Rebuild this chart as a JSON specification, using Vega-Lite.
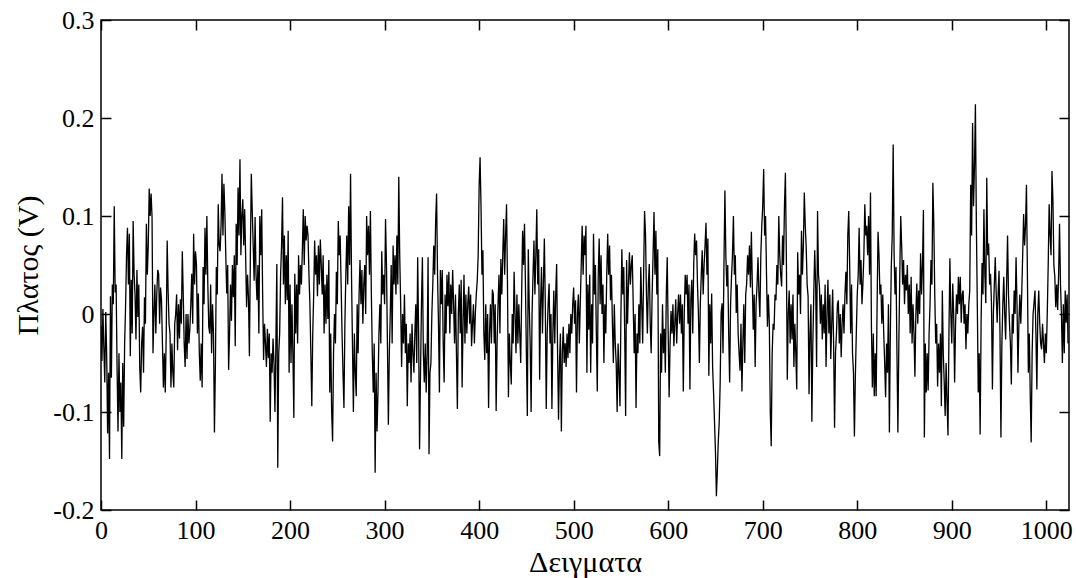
{
"$schema": "https://vega.github.io/schema/vega-lite/v6.json",
"width": 968, "height": 490,
"autosize": {"type": "none"},
"padding": {"left": 101, "top": 20, "right": 7, "bottom": 68},
"background": "white",
"config": {
 "view": {"stroke": "black", "strokeWidth": 1.5},
 "axis": {"labelFont": "Liberation Serif, Times New Roman, serif", "titleFont": "Liberation Serif, Times New Roman, serif", "labelFontSize": 26, "titleFontSize": 30, "labelColor": "black", "titleColor": "black", "titleFontWeight": "normal", "tickColor": "black", "tickSize": -10, "tickWidth": 1.5, "domain": false, "grid": false, "labelFlush": false, "labelOverlap": false, "labelBound": false}
},
"data": {"values": [
{"n":0,"v":-0.012},{"n":1,"v":-0.048},{"n":2,"v":0.005},{"n":3,"v":-0.035},{"n":4,"v":-0.07},{"n":5,"v":0.002},{"n":6,"v":-0.04},{"n":7,"v":-0.122},{"n":8,"v":-0.06},{"n":9,"v":-0.148},
{"n":10,"v":0.018},{"n":11,"v":-0.065},{"n":12,"v":0.03},{"n":13,"v":0.01},{"n":14,"v":0.11},{"n":15,"v":0.022},{"n":16,"v":0.03},{"n":17,"v":-0.055},{"n":18,"v":-0.12},{"n":19,"v":-0.04},
{"n":20,"v":-0.1},{"n":21,"v":-0.07},{"n":22,"v":-0.148},{"n":23,"v":-0.05},{"n":24,"v":-0.115},{"n":25,"v":-0.03},{"n":26,"v":0.008},{"n":27,"v":0.06},{"n":28,"v":0.088},{"n":29,"v":0.03},
{"n":30,"v":0.082},{"n":31,"v":-0.043},{"n":32,"v":0.035},{"n":33,"v":-0.02},{"n":34,"v":0.095},{"n":35,"v":0.041},{"n":36,"v":0.02},{"n":37,"v":-0.026},{"n":38,"v":0.045},{"n":39,"v":-0.003},
{"n":40,"v":0.03},{"n":41,"v":-0.055},{"n":42,"v":-0.08},{"n":43,"v":-0.03},{"n":44,"v":-0.013},{"n":45,"v":-0.06},{"n":46,"v":0.017},{"n":47,"v":-0.01},{"n":48,"v":0.092},{"n":49,"v":0.04},
{"n":50,"v":0.07},{"n":51,"v":0.128},{"n":52,"v":0.1},{"n":53,"v":0.123},{"n":54,"v":0.099},{"n":55,"v":-0.04},{"n":56,"v":0.0},{"n":57,"v":0.03},{"n":58,"v":-0.02},{"n":59,"v":0.02},
{"n":60,"v":0.045},{"n":61,"v":0.041},{"n":62,"v":-0.01},{"n":63,"v":0.027},{"n":64,"v":0.014},{"n":65,"v":-0.03},{"n":66,"v":-0.075},{"n":67,"v":-0.04},{"n":68,"v":-0.08},{"n":69,"v":-0.02},
{"n":70,"v":0.075},{"n":71,"v":0.024},{"n":72,"v":-0.01},{"n":73,"v":-0.02},{"n":74,"v":-0.075},{"n":75,"v":-0.03},{"n":76,"v":-0.06},{"n":77,"v":-0.075},{"n":78,"v":-0.01},{"n":79,"v":0.0},
{"n":80,"v":0.02},{"n":81,"v":-0.037},{"n":82,"v":0.01},{"n":83,"v":-0.025},{"n":84,"v":0.015},{"n":85,"v":-0.01},{"n":86,"v":0.064},{"n":87,"v":0.02},{"n":88,"v":-0.03},{"n":89,"v":-0.054},
{"n":90,"v":0.0},{"n":91,"v":-0.046},{"n":92,"v":0.0},{"n":93,"v":-0.03},{"n":94,"v":-0.015},{"n":95,"v":0.01},{"n":96,"v":0.041},{"n":97,"v":-0.01},{"n":98,"v":0.082},{"n":99,"v":0.03},
{"n":100,"v":0.064},{"n":101,"v":0.05},{"n":102,"v":-0.02},{"n":103,"v":0.021},{"n":104,"v":-0.04},{"n":105,"v":-0.068},{"n":106,"v":-0.03},{"n":107,"v":-0.075},{"n":108,"v":0.048},{"n":109,"v":0.01},
{"n":110,"v":0.088},{"n":111,"v":0.04},{"n":112,"v":0.1},{"n":113,"v":0.03},{"n":114,"v":-0.013},{"n":115,"v":-0.02},{"n":116,"v":0.03},{"n":117,"v":-0.04},{"n":118,"v":0.01},{"n":119,"v":-0.02},
{"n":120,"v":-0.121},{"n":121,"v":-0.054},{"n":122,"v":0.048},{"n":123,"v":0.02},{"n":124,"v":0.112},{"n":125,"v":0.07},{"n":126,"v":0.064},{"n":127,"v":0.09},{"n":128,"v":0.143},{"n":129,"v":0.08},
{"n":130,"v":0.133},{"n":131,"v":0.105},{"n":132,"v":0.06},{"n":133,"v":0.021},{"n":134,"v":0.05},{"n":135,"v":-0.057},{"n":136,"v":-0.02},{"n":137,"v":0.03},{"n":138,"v":-0.007},{"n":139,"v":0.05},
{"n":140,"v":0.017},{"n":141,"v":0.06},{"n":142,"v":-0.033},{"n":143,"v":0.092},{"n":144,"v":0.05},{"n":145,"v":0.129},{"n":146,"v":0.08},{"n":147,"v":0.158},{"n":148,"v":0.06},{"n":149,"v":0.1},
{"n":150,"v":0.117},{"n":151,"v":0.07},{"n":152,"v":0.107},{"n":153,"v":0.06},{"n":154,"v":0.007},{"n":155,"v":0.04},{"n":156,"v":0.017},{"n":157,"v":-0.043},{"n":158,"v":0.06},{"n":159,"v":0.143},
{"n":160,"v":0.105},{"n":161,"v":0.07},{"n":162,"v":0.034},{"n":163,"v":0.099},{"n":164,"v":0.04},{"n":165,"v":0.014},{"n":166,"v":0.05},{"n":167,"v":-0.02},{"n":168,"v":0.1},{"n":169,"v":0.06},
{"n":170,"v":0.107},{"n":171,"v":0.02},{"n":172,"v":-0.047},{"n":173,"v":-0.01},{"n":174,"v":-0.03},{"n":175,"v":-0.054},{"n":176,"v":-0.015},{"n":177,"v":-0.045},{"n":178,"v":-0.02},{"n":179,"v":-0.11},
{"n":180,"v":-0.04},{"n":181,"v":-0.06},{"n":182,"v":-0.025},{"n":183,"v":-0.05},{"n":184,"v":-0.1},{"n":185,"v":-0.03},{"n":186,"v":0.051},{"n":187,"v":-0.157},{"n":188,"v":-0.04},{"n":189,"v":-0.02},
{"n":190,"v":0.04},{"n":191,"v":0.07},{"n":192,"v":0.119},{"n":193,"v":0.03},{"n":194,"v":0.08},{"n":195,"v":0.01},{"n":196,"v":0.06},{"n":197,"v":0.014},{"n":198,"v":0.085},{"n":199,"v":-0.06},
{"n":200,"v":0.03},{"n":201,"v":-0.05},{"n":202,"v":0.01},{"n":203,"v":-0.04},{"n":204,"v":-0.106},{"n":205,"v":0.041},{"n":206,"v":-0.02},{"n":207,"v":0.03},{"n":208,"v":-0.03},{"n":209,"v":0.06},
{"n":210,"v":0.02},{"n":211,"v":0.05},{"n":212,"v":0.03},{"n":213,"v":0.065},{"n":214,"v":0.107},{"n":215,"v":0.05},{"n":216,"v":0.1},{"n":217,"v":0.075},{"n":218,"v":0.09},{"n":219,"v":0.08},
{"n":220,"v":0.04},{"n":221,"v":0.01},{"n":222,"v":-0.04},{"n":223,"v":-0.094},{"n":224,"v":-0.02},{"n":225,"v":0.02},{"n":226,"v":0.075},{"n":227,"v":0.04},{"n":228,"v":0.06},{"n":229,"v":0.018},
{"n":230,"v":0.07},{"n":231,"v":0.03},{"n":232,"v":0.076},{"n":233,"v":0.05},{"n":234,"v":0.02},{"n":235,"v":0.06},{"n":236,"v":-0.02},{"n":237,"v":0.03},{"n":238,"v":-0.01},{"n":239,"v":0.04},
{"n":240,"v":-0.005},{"n":241,"v":0.055},{"n":242,"v":-0.08},{"n":243,"v":-0.02},{"n":244,"v":-0.1},{"n":245,"v":-0.13},{"n":246,"v":-0.04},{"n":247,"v":0.0},{"n":248,"v":-0.03},{"n":249,"v":0.043},
{"n":250,"v":0.01},{"n":251,"v":0.095},{"n":252,"v":0.06},{"n":253,"v":0.08},{"n":254,"v":0.03},{"n":255,"v":-0.02},{"n":256,"v":-0.06},{"n":257,"v":-0.096},{"n":258,"v":-0.01},{"n":259,"v":0.04},
{"n":260,"v":0.08},{"n":261,"v":0.03},{"n":262,"v":0.11},{"n":263,"v":0.05},{"n":264,"v":0.143},{"n":265,"v":0.04},{"n":266,"v":-0.03},{"n":267,"v":-0.1},{"n":268,"v":-0.02},{"n":269,"v":-0.06},
{"n":270,"v":-0.084},{"n":271,"v":0.01},{"n":272,"v":-0.04},{"n":273,"v":0.02},{"n":274,"v":0.055},{"n":275,"v":0.01},{"n":276,"v":0.045},{"n":277,"v":-0.01},{"n":278,"v":0.03},{"n":279,"v":0.05},
{"n":280,"v":0.0},{"n":281,"v":0.1},{"n":282,"v":0.06},{"n":283,"v":0.09},{"n":284,"v":0.04},{"n":285,"v":0.105},{"n":286,"v":0.02},{"n":287,"v":-0.04},{"n":288,"v":-0.08},{"n":289,"v":-0.03},
{"n":290,"v":-0.162},{"n":291,"v":-0.06},{"n":292,"v":-0.12},{"n":293,"v":-0.08},{"n":294,"v":-0.02},{"n":295,"v":0.01},{"n":296,"v":-0.03},{"n":297,"v":0.064},{"n":298,"v":0.02},{"n":299,"v":0.04},
{"n":300,"v":0.01},{"n":301,"v":0.097},{"n":302,"v":0.05},{"n":303,"v":-0.03},{"n":304,"v":-0.113},{"n":305,"v":-0.04},{"n":306,"v":0.0},{"n":307,"v":0.05},{"n":308,"v":-0.03},{"n":309,"v":0.07},
{"n":310,"v":0.03},{"n":311,"v":0.06},{"n":312,"v":0.02},{"n":313,"v":0.08},{"n":314,"v":0.03},{"n":315,"v":0.14},{"n":316,"v":0.06},{"n":317,"v":0.01},{"n":318,"v":-0.054},{"n":319,"v":0.0},
{"n":320,"v":-0.03},{"n":321,"v":0.02},{"n":322,"v":-0.04},{"n":323,"v":-0.01},{"n":324,"v":-0.094},{"n":325,"v":-0.03},{"n":326,"v":-0.05},{"n":327,"v":-0.02},{"n":328,"v":-0.07},{"n":329,"v":-0.01},
{"n":330,"v":-0.04},{"n":331,"v":-0.06},{"n":332,"v":-0.02},{"n":333,"v":0.01},{"n":334,"v":-0.05},{"n":335,"v":0.058},{"n":336,"v":-0.02},{"n":337,"v":-0.138},{"n":338,"v":-0.06},{"n":339,"v":0.01},
{"n":340,"v":0.058},{"n":341,"v":-0.04},{"n":342,"v":-0.07},{"n":343,"v":-0.03},{"n":344,"v":-0.08},{"n":345,"v":-0.04},{"n":346,"v":0.058},{"n":347,"v":-0.143},{"n":348,"v":-0.06},{"n":349,"v":-0.05},
{"n":350,"v":0.0},{"n":351,"v":0.03},{"n":352,"v":0.07},{"n":353,"v":0.04},{"n":354,"v":0.095},{"n":355,"v":0.123},{"n":356,"v":0.04},{"n":357,"v":-0.01},{"n":358,"v":-0.08},{"n":359,"v":0.045},
{"n":360,"v":0.01},{"n":361,"v":0.045},{"n":362,"v":-0.03},{"n":363,"v":-0.07},{"n":364,"v":0.02},{"n":365,"v":-0.02},{"n":366,"v":0.04},{"n":367,"v":0.008},{"n":368,"v":0.043},{"n":369,"v":-0.02},
{"n":370,"v":0.03},{"n":371,"v":0.0},{"n":372,"v":0.045},{"n":373,"v":0.01},{"n":374,"v":-0.03},{"n":375,"v":0.02},{"n":376,"v":-0.04},{"n":377,"v":-0.097},{"n":378,"v":0.0},{"n":379,"v":0.03},
{"n":380,"v":-0.02},{"n":381,"v":0.035},{"n":382,"v":-0.075},{"n":383,"v":-0.01},{"n":384,"v":0.04},{"n":385,"v":-0.03},{"n":386,"v":0.02},{"n":387,"v":-0.02},{"n":388,"v":0.01},{"n":389,"v":0.028},
{"n":390,"v":-0.01},{"n":391,"v":0.02},{"n":392,"v":-0.033},{"n":393,"v":-0.01},{"n":394,"v":0.01},{"n":395,"v":-0.03},{"n":396,"v":0.0},{"n":397,"v":0.02},{"n":398,"v":0.034},{"n":399,"v":0.06},
{"n":400,"v":0.13},{"n":401,"v":0.16},{"n":402,"v":0.11},{"n":403,"v":0.04},{"n":404,"v":0.065},{"n":405,"v":-0.02},{"n":406,"v":-0.047},{"n":407,"v":0.01},{"n":408,"v":-0.04},{"n":409,"v":0.0},
{"n":410,"v":-0.096},{"n":411,"v":-0.02},{"n":412,"v":0.01},{"n":413,"v":-0.03},{"n":414,"v":0.025},{"n":415,"v":0.02},{"n":416,"v":-0.03},{"n":417,"v":0.01},{"n":418,"v":-0.099},{"n":419,"v":-0.03},
{"n":420,"v":0.01},{"n":421,"v":0.04},{"n":422,"v":-0.02},{"n":423,"v":0.056},{"n":424,"v":0.02},{"n":425,"v":0.06},{"n":426,"v":0.097},{"n":427,"v":0.04},{"n":428,"v":0.08},{"n":429,"v":0.112},
{"n":430,"v":0.03},{"n":431,"v":-0.085},{"n":432,"v":-0.02},{"n":433,"v":-0.05},{"n":434,"v":-0.072},{"n":435,"v":0.0},{"n":436,"v":-0.03},{"n":437,"v":0.043},{"n":438,"v":0.0},{"n":439,"v":-0.04},
{"n":440,"v":0.02},{"n":441,"v":-0.03},{"n":442,"v":0.01},{"n":443,"v":-0.02},{"n":444,"v":-0.05},{"n":445,"v":0.02},{"n":446,"v":0.085},{"n":447,"v":0.05},{"n":448,"v":0.092},{"n":449,"v":0.03},
{"n":450,"v":-0.04},{"n":451,"v":-0.104},{"n":452,"v":0.066},{"n":453,"v":0.01},{"n":454,"v":-0.03},{"n":455,"v":-0.1},{"n":456,"v":0.0},{"n":457,"v":0.04},{"n":458,"v":0.075},{"n":459,"v":0.02},
{"n":460,"v":0.06},{"n":461,"v":0.107},{"n":462,"v":0.03},{"n":463,"v":0.066},{"n":464,"v":-0.067},{"n":465,"v":0.01},{"n":466,"v":0.048},{"n":467,"v":-0.02},{"n":468,"v":0.03},{"n":469,"v":0.077},
{"n":470,"v":0.01},{"n":471,"v":-0.097},{"n":472,"v":-0.02},{"n":473,"v":0.01},{"n":474,"v":0.031},{"n":475,"v":-0.03},{"n":476,"v":0.0},{"n":477,"v":-0.097},{"n":478,"v":-0.02},{"n":479,"v":0.024},
{"n":480,"v":-0.03},{"n":481,"v":0.02},{"n":482,"v":0.051},{"n":483,"v":-0.04},{"n":484,"v":-0.108},{"n":485,"v":-0.05},{"n":486,"v":-0.02},{"n":487,"v":-0.12},{"n":488,"v":-0.04},{"n":489,"v":-0.013},
{"n":490,"v":-0.05},{"n":491,"v":-0.03},{"n":492,"v":-0.054},{"n":493,"v":-0.02},{"n":494,"v":-0.045},{"n":495,"v":-0.01},{"n":496,"v":-0.04},{"n":497,"v":0.0},{"n":498,"v":-0.02},{"n":499,"v":0.01},
{"n":500,"v":0.027},{"n":501,"v":-0.01},{"n":502,"v":0.014},{"n":503,"v":-0.08},{"n":504,"v":0.0},{"n":505,"v":0.02},{"n":506,"v":-0.03},{"n":507,"v":0.01},{"n":508,"v":0.05},{"n":509,"v":0.09},
{"n":510,"v":0.04},{"n":511,"v":0.08},{"n":512,"v":0.06},{"n":513,"v":0.09},{"n":514,"v":-0.06},{"n":515,"v":0.03},{"n":516,"v":-0.016},{"n":517,"v":0.04},{"n":518,"v":-0.06},{"n":519,"v":0.01},
{"n":520,"v":-0.03},{"n":521,"v":0.082},{"n":522,"v":0.02},{"n":523,"v":0.05},{"n":524,"v":-0.02},{"n":525,"v":-0.079},{"n":526,"v":0.04},{"n":527,"v":0.077},{"n":528,"v":0.01},{"n":529,"v":0.06},
{"n":530,"v":0.0},{"n":531,"v":0.03},{"n":532,"v":-0.05},{"n":533,"v":0.01},{"n":534,"v":-0.02},{"n":535,"v":0.04},{"n":536,"v":0.082},{"n":537,"v":0.04},{"n":538,"v":0.07},{"n":539,"v":0.014},
{"n":540,"v":0.04},{"n":541,"v":-0.01},{"n":542,"v":-0.05},{"n":543,"v":0.01},{"n":544,"v":-0.03},{"n":545,"v":-0.05},{"n":546,"v":-0.1},{"n":547,"v":-0.03},{"n":548,"v":-0.06},{"n":549,"v":-0.094},
{"n":550,"v":0.0},{"n":551,"v":0.066},{"n":552,"v":0.02},{"n":553,"v":0.048},{"n":554,"v":-0.02},{"n":555,"v":-0.104},{"n":556,"v":0.055},{"n":557,"v":-0.01},{"n":558,"v":0.03},{"n":559,"v":0.063},
{"n":560,"v":0.03},{"n":561,"v":0.05},{"n":562,"v":0.06},{"n":563,"v":0.01},{"n":564,"v":-0.04},{"n":565,"v":0.0},{"n":566,"v":-0.096},{"n":567,"v":-0.02},{"n":568,"v":-0.04},{"n":569,"v":0.01},
{"n":570,"v":-0.03},{"n":571,"v":0.048},{"n":572,"v":0.01},{"n":573,"v":-0.03},{"n":574,"v":0.04},{"n":575,"v":0.105},{"n":576,"v":0.082},{"n":577,"v":0.02},{"n":578,"v":-0.02},{"n":579,"v":0.03},
{"n":580,"v":0.051},{"n":581,"v":-0.01},{"n":582,"v":-0.04},{"n":583,"v":0.02},{"n":584,"v":0.06},{"n":585,"v":0.104},{"n":586,"v":0.04},{"n":587,"v":0.085},{"n":588,"v":0.02},{"n":589,"v":0.066},
{"n":590,"v":-0.13},{"n":591,"v":-0.145},{"n":592,"v":-0.02},{"n":593,"v":-0.06},{"n":594,"v":0.01},{"n":595,"v":-0.04},{"n":596,"v":-0.015},{"n":597,"v":-0.06},{"n":598,"v":0.02},{"n":599,"v":0.058},
{"n":600,"v":-0.02},{"n":601,"v":-0.085},{"n":602,"v":-0.03},{"n":603,"v":0.003},{"n":604,"v":-0.02},{"n":605,"v":0.01},{"n":606,"v":-0.033},{"n":607,"v":-0.01},{"n":608,"v":0.015},{"n":609,"v":-0.03},
{"n":610,"v":0.0},{"n":611,"v":0.02},{"n":612,"v":-0.01},{"n":613,"v":0.02},{"n":614,"v":-0.02},{"n":615,"v":0.01},{"n":616,"v":-0.079},{"n":617,"v":0.0},{"n":618,"v":0.04},{"n":619,"v":0.02},
{"n":620,"v":0.04},{"n":621,"v":-0.01},{"n":622,"v":0.03},{"n":623,"v":-0.077},{"n":624,"v":0.016},{"n":625,"v":0.035},{"n":626,"v":-0.02},{"n":627,"v":0.05},{"n":628,"v":0.082},{"n":629,"v":0.06},
{"n":630,"v":0.075},{"n":631,"v":0.03},{"n":632,"v":0.0},{"n":633,"v":-0.05},{"n":634,"v":0.01},{"n":635,"v":0.04},{"n":636,"v":0.065},{"n":637,"v":0.02},{"n":638,"v":0.05},{"n":639,"v":0.07},
{"n":640,"v":0.093},{"n":641,"v":0.04},{"n":642,"v":0.077},{"n":643,"v":-0.063},{"n":644,"v":0.01},{"n":645,"v":-0.03},{"n":646,"v":0.021},{"n":647,"v":-0.054},{"n":648,"v":-0.08},{"n":649,"v":-0.11},
{"n":650,"v":-0.14},{"n":651,"v":-0.186},{"n":652,"v":-0.16},{"n":653,"v":-0.13},{"n":654,"v":-0.11},{"n":655,"v":-0.07},{"n":656,"v":0.001},{"n":657,"v":0.011},{"n":658,"v":-0.04},{"n":659,"v":0.05},
{"n":660,"v":0.126},{"n":661,"v":0.06},{"n":662,"v":0.028},{"n":663,"v":0.05},{"n":664,"v":-0.02},{"n":665,"v":-0.07},{"n":666,"v":0.01},{"n":667,"v":0.038},{"n":668,"v":0.06},{"n":669,"v":0.1},
{"n":670,"v":0.04},{"n":671,"v":0.06},{"n":672,"v":0.001},{"n":673,"v":0.03},{"n":674,"v":-0.02},{"n":675,"v":-0.04},{"n":676,"v":-0.058},{"n":677,"v":-0.01},{"n":678,"v":-0.079},{"n":679,"v":-0.03},
{"n":680,"v":0.01},{"n":681,"v":-0.05},{"n":682,"v":0.02},{"n":683,"v":0.031},{"n":684,"v":0.06},{"n":685,"v":0.04},{"n":686,"v":0.07},{"n":687,"v":0.027},{"n":688,"v":0.084},{"n":689,"v":0.03},
{"n":690,"v":-0.016},{"n":691,"v":0.02},{"n":692,"v":-0.054},{"n":693,"v":0.01},{"n":694,"v":0.03},{"n":695,"v":0.058},{"n":696,"v":0.02},{"n":697,"v":-0.003},{"n":698,"v":0.06},{"n":699,"v":0.09},
{"n":700,"v":0.11},{"n":701,"v":0.148},{"n":702,"v":0.08},{"n":703,"v":0.1},{"n":704,"v":0.041},{"n":705,"v":-0.013},{"n":706,"v":0.02},{"n":707,"v":-0.01},{"n":708,"v":-0.1},{"n":709,"v":-0.135},
{"n":710,"v":-0.04},{"n":711,"v":-0.01},{"n":712,"v":-0.016},{"n":713,"v":0.02},{"n":714,"v":0.014},{"n":715,"v":0.05},{"n":716,"v":0.03},{"n":717,"v":0.1},{"n":718,"v":0.06},{"n":719,"v":0.04},
{"n":720,"v":0.028},{"n":721,"v":0.08},{"n":722,"v":0.05},{"n":723,"v":0.11},{"n":724,"v":0.144},{"n":725,"v":0.06},{"n":726,"v":-0.067},{"n":727,"v":0.0},{"n":728,"v":0.024},{"n":729,"v":-0.03},
{"n":730,"v":0.01},{"n":731,"v":-0.026},{"n":732,"v":0.02},{"n":733,"v":-0.054},{"n":734,"v":-0.01},{"n":735,"v":-0.04},{"n":736,"v":-0.077},{"n":737,"v":0.063},{"n":738,"v":0.02},{"n":739,"v":0.04},
{"n":740,"v":0.0},{"n":741,"v":0.085},{"n":742,"v":0.04},{"n":743,"v":0.07},{"n":744,"v":0.124},{"n":745,"v":0.09},{"n":746,"v":0.068},{"n":747,"v":0.03},{"n":748,"v":0.018},{"n":749,"v":-0.082},
{"n":750,"v":-0.02},{"n":751,"v":0.01},{"n":752,"v":-0.11},{"n":753,"v":-0.03},{"n":754,"v":0.02},{"n":755,"v":0.065},{"n":756,"v":0.03},{"n":757,"v":-0.054},{"n":758,"v":0.105},{"n":759,"v":0.04},
{"n":760,"v":0.028},{"n":761,"v":-0.01},{"n":762,"v":0.02},{"n":763,"v":-0.026},{"n":764,"v":0.01},{"n":765,"v":-0.02},{"n":766,"v":0.03},{"n":767,"v":-0.054},{"n":768,"v":0.0},{"n":769,"v":0.035},
{"n":770,"v":-0.02},{"n":771,"v":0.02},{"n":772,"v":-0.046},{"n":773,"v":-0.01},{"n":774,"v":0.025},{"n":775,"v":-0.03},{"n":776,"v":-0.116},{"n":777,"v":-0.04},{"n":778,"v":-0.02},{"n":779,"v":0.01},
{"n":780,"v":0.014},{"n":781,"v":-0.03},{"n":782,"v":0.0},{"n":783,"v":-0.044},{"n":784,"v":-0.01},{"n":785,"v":0.01},{"n":786,"v":-0.02},{"n":787,"v":0.02},{"n":788,"v":0.043},{"n":789,"v":0.01},
{"n":790,"v":0.08},{"n":791,"v":0.105},{"n":792,"v":0.05},{"n":793,"v":-0.02},{"n":794,"v":0.03},{"n":795,"v":-0.04},{"n":796,"v":-0.06},{"n":797,"v":-0.125},{"n":798,"v":-0.063},{"n":799,"v":-0.02},
{"n":800,"v":0.02},{"n":801,"v":0.04},{"n":802,"v":0.088},{"n":803,"v":0.03},{"n":804,"v":0.055},{"n":805,"v":0.01},{"n":806,"v":0.031},{"n":807,"v":0.06},{"n":808,"v":0.112},{"n":809,"v":0.08},
{"n":810,"v":0.09},{"n":811,"v":0.06},{"n":812,"v":0.1},{"n":813,"v":0.04},{"n":814,"v":0.124},{"n":815,"v":-0.013},{"n":816,"v":-0.075},{"n":817,"v":-0.02},{"n":818,"v":-0.084},{"n":819,"v":-0.04},
{"n":820,"v":-0.084},{"n":821,"v":0.01},{"n":822,"v":0.084},{"n":823,"v":0.06},{"n":824,"v":0.02},{"n":825,"v":0.03},{"n":826,"v":-0.01},{"n":827,"v":0.02},{"n":828,"v":-0.019},{"n":829,"v":-0.05},
{"n":830,"v":-0.085},{"n":831,"v":-0.03},{"n":832,"v":-0.06},{"n":833,"v":0.01},{"n":834,"v":-0.121},{"n":835,"v":-0.02},{"n":836,"v":0.048},{"n":837,"v":0.08},{"n":838,"v":0.173},{"n":839,"v":0.06},
{"n":840,"v":0.02},{"n":841,"v":0.048},{"n":842,"v":-0.04},{"n":843,"v":-0.121},{"n":844,"v":-0.03},{"n":845,"v":0.04},{"n":846,"v":0.1},{"n":847,"v":0.07},{"n":848,"v":0.03},{"n":849,"v":0.055},
{"n":850,"v":0.01},{"n":851,"v":0.04},{"n":852,"v":0.024},{"n":853,"v":0.05},{"n":854,"v":0.0},{"n":855,"v":0.03},{"n":856,"v":-0.02},{"n":857,"v":0.038},{"n":858,"v":-0.03},{"n":859,"v":0.01},
{"n":860,"v":-0.02},{"n":861,"v":-0.064},{"n":862,"v":0.0},{"n":863,"v":0.031},{"n":864,"v":-0.01},{"n":865,"v":0.024},{"n":866,"v":0.0},{"n":867,"v":0.062},{"n":868,"v":0.02},{"n":869,"v":0.05},
{"n":870,"v":0.106},{"n":871,"v":-0.126},{"n":872,"v":-0.03},{"n":873,"v":-0.08},{"n":874,"v":-0.04},{"n":875,"v":-0.078},{"n":876,"v":-0.02},{"n":877,"v":0.01},{"n":878,"v":0.055},{"n":879,"v":0.03},
{"n":880,"v":0.134},{"n":881,"v":0.092},{"n":882,"v":0.02},{"n":883,"v":-0.03},{"n":884,"v":-0.01},{"n":885,"v":-0.074},{"n":886,"v":-0.03},{"n":887,"v":-0.06},{"n":888,"v":-0.02},{"n":889,"v":-0.094},
{"n":890,"v":0.024},{"n":891,"v":-0.04},{"n":892,"v":-0.07},{"n":893,"v":-0.104},{"n":894,"v":-0.05},{"n":895,"v":-0.09},{"n":896,"v":-0.124},{"n":897,"v":-0.02},{"n":898,"v":0.057},{"n":899,"v":0.0},
{"n":900,"v":-0.03},{"n":901,"v":0.031},{"n":902,"v":0.0},{"n":903,"v":-0.07},{"n":904,"v":-0.01},{"n":905,"v":0.02},{"n":906,"v":0.0},{"n":907,"v":0.038},{"n":908,"v":0.01},{"n":909,"v":0.038},
{"n":910,"v":-0.009},{"n":911,"v":0.02},{"n":912,"v":0.024},{"n":913,"v":-0.01},{"n":914,"v":0.01},{"n":915,"v":-0.036},{"n":916,"v":0.0},{"n":917,"v":-0.02},{"n":918,"v":0.01},{"n":919,"v":0.024},
{"n":920,"v":0.132},{"n":921,"v":0.08},{"n":922,"v":0.195},{"n":923,"v":0.11},{"n":924,"v":0.15},{"n":925,"v":0.214},{"n":926,"v":0.092},{"n":927,"v":0.01},{"n":928,"v":-0.08},{"n":929,"v":-0.04},
{"n":930,"v":-0.123},{"n":931,"v":-0.01},{"n":932,"v":0.052},{"n":933,"v":0.02},{"n":934,"v":0.107},{"n":935,"v":0.04},{"n":936,"v":0.011},{"n":937,"v":0.139},{"n":938,"v":0.06},{"n":939,"v":0.072},
{"n":940,"v":0.03},{"n":941,"v":0.041},{"n":942,"v":0.01},{"n":943,"v":-0.077},{"n":944,"v":0.0},{"n":945,"v":0.03},{"n":946,"v":0.058},{"n":947,"v":0.02},{"n":948,"v":-0.009},{"n":949,"v":0.02},
{"n":950,"v":0.044},{"n":951,"v":-0.02},{"n":952,"v":-0.126},{"n":953,"v":-0.03},{"n":954,"v":0.01},{"n":955,"v":0.038},{"n":956,"v":0.0},{"n":957,"v":-0.026},{"n":958,"v":0.03},{"n":959,"v":0.08},
{"n":960,"v":0.02},{"n":961,"v":-0.009},{"n":962,"v":-0.03},{"n":963,"v":-0.072},{"n":964,"v":0.0},{"n":965,"v":-0.02},{"n":966,"v":0.024},{"n":967,"v":0.0},{"n":968,"v":0.058},{"n":969,"v":0.01},
{"n":970,"v":-0.06},{"n":971,"v":-0.01},{"n":972,"v":0.02},{"n":973,"v":-0.01},{"n":974,"v":0.021},{"n":975,"v":0.06},{"n":976,"v":0.102},{"n":977,"v":0.07},{"n":978,"v":0.09},{"n":979,"v":0.132},
{"n":980,"v":0.04},{"n":981,"v":-0.06},{"n":982,"v":-0.02},{"n":983,"v":-0.082},{"n":984,"v":-0.131},{"n":985,"v":-0.04},{"n":986,"v":0.0},{"n":987,"v":0.011},{"n":988,"v":0.024},{"n":989,"v":-0.02},
{"n":990,"v":-0.077},{"n":991,"v":0.0},{"n":992,"v":0.024},{"n":993,"v":-0.009},{"n":994,"v":-0.03},{"n":995,"v":-0.036},{"n":996,"v":-0.01},{"n":997,"v":-0.03},{"n":998,"v":-0.05},{"n":999,"v":-0.02},
{"n":1000,"v":-0.04},{"n":1001,"v":0.0},{"n":1002,"v":0.05},{"n":1003,"v":0.112},{"n":1004,"v":0.08},{"n":1005,"v":0.06},{"n":1006,"v":0.146},{"n":1007,"v":0.116},{"n":1008,"v":0.05},{"n":1009,"v":0.038},
{"n":1010,"v":0.007},{"n":1011,"v":0.03},{"n":1012,"v":0.004},{"n":1013,"v":0.04},{"n":1014,"v":0.092},{"n":1015,"v":0.03},{"n":1016,"v":0.0},{"n":1017,"v":-0.05},{"n":1018,"v":0.01},{"n":1019,"v":-0.04},
{"n":1020,"v":0.024},{"n":1021,"v":-0.009},{"n":1022,"v":0.02},{"n":1023,"v":-0.03}
]},
"layer": [
 {
  "mark": {"type": "line", "color": "black", "strokeWidth": 1.3, "clip": true},
  "encoding": {
   "x": {"field": "n", "type": "quantitative", "scale": {"domain": [0, 1024], "nice": false, "zero": false},
         "axis": {"orient": "bottom", "values": [0,100,200,300,400,500,600,700,800,900,1000], "format": "d", "title": "Δειγματα", "labelPadding": 17, "titlePadding": 4}},
   "y": {"field": "v", "type": "quantitative", "scale": {"domain": [-0.2, 0.3], "nice": false, "zero": false},
         "axis": {"orient": "left", "values": [-0.2,-0.1,0,0.1,0.2,0.3], "labelExpr": "datum.value == 0 ? '0' : '' + round(datum.value*10)/10", "title": "Πλατος (V)", "labelPadding": 17, "titlePadding": 9}}
  }
 },
 {
  "mark": {"type": "line", "opacity": 0},
  "encoding": {
   "x": {"field": "n", "type": "quantitative", "axis": {"orient": "top", "values": [0,100,200,300,400,500,600,700,800,900,1000], "labels": false, "title": null}},
   "y": {"field": "v", "type": "quantitative", "axis": {"orient": "right", "values": [-0.2,-0.1,0,0.1,0.2,0.3], "labels": false, "title": null}}
  }
 }
],
"resolve": {"axis": {"x": "independent", "y": "independent"}}
}
